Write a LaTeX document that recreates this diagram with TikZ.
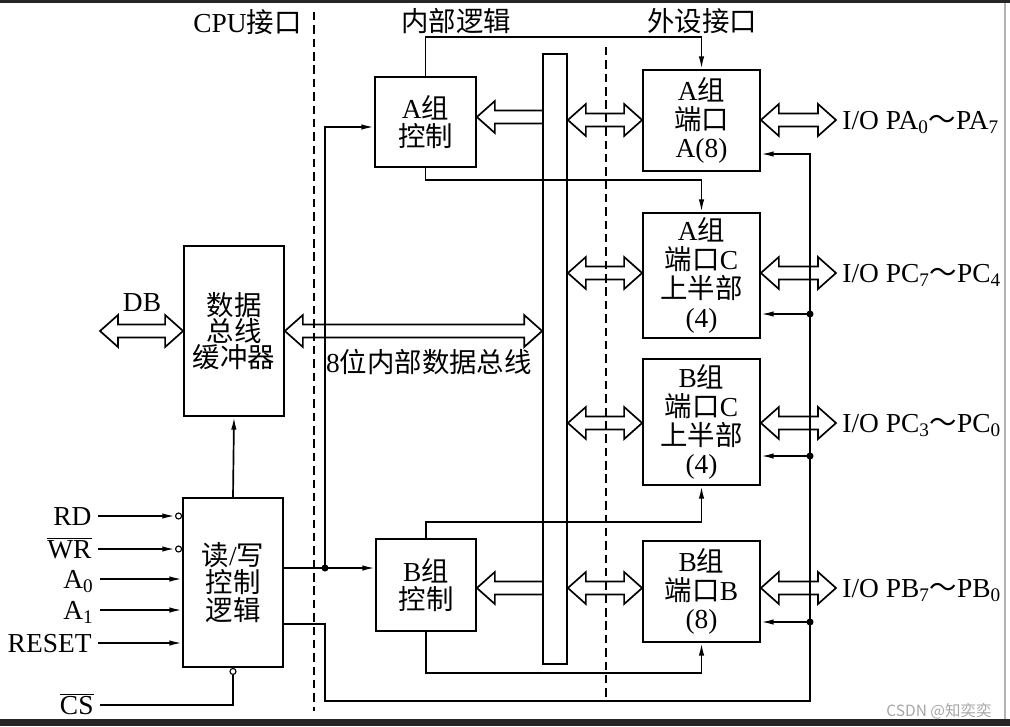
\documentclass[tikz,border=0pt]{standalone}
\usepackage{fontspec}
\setmainfont{Liberation Serif}
\newfontfamily\cjk{Noto Sans CJK SC}
\usetikzlibrary{arrows.meta,calc}

\newcommand\zh[1]{{\cjk #1}}
\newcommand\dblbus[2]{%
  \draw[line join=miter] (#1) -- ($(#1)+(18,-16)$) -- ($(#1)+(18,-6.5)$)
    -- ($(#2)+(-18,-6.5)$) -- ($(#2)+(-18,-16)$) -- (#2)
    -- ($(#2)+(-18,16)$) -- ($(#2)+(-18,6.5)$) -- ($(#1)+(18,6.5)$)
    -- ($(#1)+(18,16)$) -- cycle;}
\newcommand\lftbus[2]{%
  \draw[line join=miter] ($(#2)+(0,-6.5)$) -- ($(#1)+(18,-6.5)$) -- ($(#1)+(18,-16)$)
    -- (#1) -- ($(#1)+(18,16)$) -- ($(#1)+(18,6.5)$) -- ($(#2)+(0,6.5)$);}

\tikzset{
  blk/.style={draw, align=center, inner sep=0pt},
  sig/.style={-{Latex[length=9pt,width=3.8pt]}},
  bubble/.style={circle, draw, fill=white, inner sep=0pt, minimum size=0.15cm, line width=0.8pt},
  lbl/.style={inner sep=4pt, text height=13pt, text depth=0pt},
  divider/.style={dash pattern=on 6pt off 3.5pt},
}

\begin{document}
\begin{tikzpicture}[x=0.025cm, y=-0.025cm, line width=1.2pt, font=\fontsize{19.5}{20.5}\selectfont]
\useasboundingbox (0,0) rectangle (1010,726);
\fill[black!85] (0,0) rectangle (1010,2.5);
\fill[black!85] (0,719) rectangle (1010,726);
\draw[black!30, line width=1.2pt] (1005,2.5) -- (1005,719);

\draw[divider] (314,12) -- (314,711);
\draw[divider] (606,47) -- (606,700);
\node[anchor=east] (cpu) at (307,22) {CPU\zh{接口}};
\node (inner) at (456,21) {\zh{内部逻辑}};
\node (peri) at (702,21) {\zh{外设接口}};

\node[blk, minimum width=2.5cm, minimum height=4.25cm, font=\fontsize{19.5}{18.5}\selectfont] (buf) at (234,331) {\zh{数据}\\\zh{总线}\\\zh{缓冲器}};
\node[blk, minimum width=2.5cm, minimum height=4.225cm, font=\fontsize{19.5}{19.5}\selectfont] (rw) at (233,582.5) {\zh{读}/\zh{写}\\\zh{控制}\\\zh{逻辑}};
\node[blk, minimum width=2.525cm, minimum height=2.25cm] (actrl) at (425.5,122) {A\zh{组}\\\zh{控制}};
\node[blk, minimum width=2.5cm, minimum height=2.3cm] (bctrl) at (426,585) {B\zh{组}\\\zh{控制}};
\node[draw, minimum width=0.6cm, minimum height=15.25cm, inner sep=0pt] (bus) at (555,359) {};
\node[blk, minimum width=2.925cm, minimum height=2.525cm] (porta) at (701.5,120.5) {A\zh{组}\\\zh{端口}\\A(8)};
\node[blk, minimum width=2.925cm, minimum height=3.125cm] (pcu) at (701.5,275.5) {A\zh{组}\\\zh{端口}C\\\zh{上半部}\\(4)};
\node[blk, minimum width=2.925cm, minimum height=3.15cm] (pcl) at (701.5,422) {B\zh{组}\\\zh{端口}C\\\zh{上半部}\\(4)};
\node[blk, minimum width=2.925cm, minimum height=2.525cm] (portb) at (701.5,591.5) {B\zh{组}\\\zh{端口}B\\(8)};

\node[lbl, anchor=west] (ioporta) at (836,120) {I/O PA\textsubscript{0}\zh{～}PA\textsubscript{7}};
\node[lbl, anchor=west] (iopcu) at (836,273) {I/O PC\textsubscript{7}\zh{～}PC\textsubscript{4}};
\node[lbl, anchor=west] (iopcl) at (836,423) {I/O PC\textsubscript{3}\zh{～}PC\textsubscript{0}};
\node[lbl, anchor=west] (ioportb) at (836,588) {I/O PB\textsubscript{7}\zh{～}PB\textsubscript{0}};

\node (db) at (142,303) {DB};
\coordinate (dbl) at (100,331);
\dblbus{dbl}{buf.west}
\dblbus{buf.east}{bus.west |- buf.east}
\node (ibus) at (429,362) {8\zh{位内部数据总线}};

\coordinate (ya) at (0,117);
\coordinate (yb) at (0,588);
\lftbus{actrl.east |- ya}{bus.west |- ya}
\lftbus{bctrl.east |- yb}{bus.west |- yb}
\foreach \p/\y in {porta/120, pcu/273, pcl/423, portb/588} {
  \coordinate (y\p) at (0,\y);
  \dblbus{bus.east |- y\p}{\p.west |- y\p}
  \dblbus{\p.east |- y\p}{io\p.west}
}

\draw[sig] (actrl.north) -- ++(0,-39) -| (porta.north);
\draw[sig] (actrl.south) -- ++(0,12) -| (pcu.north);
\draw[sig] (bctrl.north) -- ++(0,-16) -| (pcl.south);
\draw[sig] (bctrl.south) -- ++(0,41) -| (portb.south);

\draw[sig] (rw.north) -- (buf.south);
\coordinate (ctl) at (325,568);
\draw (rw.east |- ctl) -- (ctl);
\draw[sig] (ctl) -- (bctrl.west |- ctl);
\draw[sig] (ctl) |- ([yshift=-0.125cm]actrl.west);
\fill (ctl) circle (2.5pt);

\coordinate (rwo) at (0,624);
\coordinate (ret) at (325,701);
\coordinate (back) at (810,701);
\coordinate (ypa) at (0,154);
\draw[sig] (rw.east |- rwo) -| (ret) -- (back) |- (porta.east |- ypa);
\foreach \p/\y in {pcu/314, pcl/456, portb/622} {
  \coordinate (t\p) at (810,\y);
  \fill (t\p) circle (2.5pt);
  \draw[sig] (t\p) -- (\p.east |- t\p);
}

\node[lbl, anchor=east] (rd) at (98,516) {RD};
\node[lbl, anchor=east] (wr) at (98,549) {$\overline{\mbox{WR}}$};
\node[lbl, anchor=east] (a0) at (100,579) {A\textsubscript{0}};
\node[lbl, anchor=east] (a1) at (100,610) {A\textsubscript{1}};
\node[lbl, anchor=east] (reset) at (98,643) {RESET};
\node[lbl, anchor=east] (cs) at (100,705) {$\overline{\mbox{CS}}$};
\node[bubble, anchor=east] (rdb) at (rw.west |- rd) {};
\node[bubble, anchor=east] (wrb) at (rw.west |- wr) {};
\node[bubble, anchor=north] (csb) at (rw.south) {};
\draw[sig] (rd.east) -- (rdb);
\draw[sig] (wr.east) -- (wrb);
\foreach \n in {a0,a1,reset} \draw[sig] (\n.east) -- (rw.west |- \n.east);
\draw (cs.east) -| (csb.south);

\node[anchor=east, text=black!35, font=\cjk\fontsize{11}{13}\selectfont] (wm) at (997,711) {CSDN @知奕奕};
\end{tikzpicture}
\end{document}
